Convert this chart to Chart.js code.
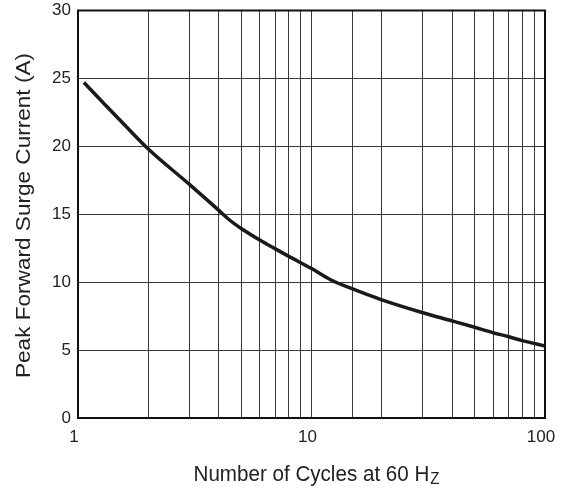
<!DOCTYPE html>
<html>
<head>
<meta charset="utf-8">
<script src="https://cdn.jsdelivr.net/npm/chart.js@4/dist/chart.umd.min.js"></script>
<style>
  html, body { margin: 0; padding: 0; background: #fff; }
  #wrap { width: 562px; height: 491px; }
</style>
</head>
<body>
<div id="wrap"><canvas id="myChart" width="562" height="491"></canvas></div>
<script>
// curve
let cycles = [1.06, 1.3, 1.5, 2, 3, 4, 4.4, 5, 6, 7, 8, 10, 12, 15, 20, 30, 40, 50, 60, 70, 80, 100]
let current = [24.7, 23.1, 22.0, 19.8, 17.2, 15.3, 14.65, 13.95, 13.1, 12.45, 11.9, 11.0, 10.2, 9.5, 8.7, 7.75, 7.15, 6.68, 6.28, 5.98, 5.7, 5.3]
let xLabels = [1, 10, 100]
let yTicks = [0, 5, 10, 15, 20, 25, 30]
let xTitle = 'Number of Cycles at 60 H'
let xTitleSub = 'Z'
let yTitle = 'Peak Forward Surge Current (A)'

const fontFam = "'Liberation Sans', Arial, sans-serif"
const gridColor = '#3a3a3a'

// frame around the plot + both axis titles
const frame = {
    id: 'frame',
    afterDraw(chart) {
        const c = chart.ctx
        const a = chart.chartArea
        c.save()
        c.strokeStyle = '#111'
        c.lineWidth = 2
        c.strokeRect(a.left, a.top, a.right - a.left, a.bottom - a.top)

        c.fillStyle = '#222'
        c.textBaseline = 'alphabetic'

        // x title, Z as subscript
        c.font = '22px ' + fontFam
        const wMain = c.measureText(xTitle).width
        c.font = '16px ' + fontFam
        const wSub = c.measureText(xTitleSub).width
        const sx = 245 / (wMain + wSub)
        c.save()
        c.translate(193.5, 0)
        c.scale(sx, 1)
        c.font = '22px ' + fontFam
        c.fillText(xTitle, 0, 481)
        c.font = '16px ' + fontFam
        c.fillText(xTitleSub, wMain + 1, 484)
        c.restore()

        // y title, rotated
        c.save()
        c.font = '21px ' + fontFam
        const wy = c.measureText(yTitle).width
        c.translate(29.5, 215.5)
        c.rotate(-Math.PI / 2)
        c.scale(325 / wy, 1)
        c.textAlign = 'center'
        c.fillText(yTitle, 0, 0)
        c.restore()

        c.restore()
    }
}

const data = {
    datasets: [{
        label: 'Peak Forward Surge Current',
        data: cycles.map((c, i) => ({ x: c, y: current[i] })),
        borderColor: '#1a1a1a',
        borderWidth: 3.5,
        pointRadius: 0,
        fill: false,
        cubicInterpolationMode: 'monotone'
    }]
}

const config = {
    type: 'line',
    data: data,
    options: {
        responsive: false,
        animation: false,
        layout: { padding: { top: 10.5, right: 17, left: 0, bottom: 0 } },
        plugins: { legend: { display: false }, tooltip: { enabled: false } },
        scales: {
            x: {
                type: 'logarithmic',
                min: 1,
                max: 100,
                afterFit: s => {
                    s.height = 73
                    s.paddingLeft = 0
                    s.paddingRight = 0
                },
                grid: { color: gridColor, lineWidth: 1, drawTicks: false },
                border: { display: false },
                ticks: {
                    color: '#222',
                    font: { family: fontFam, size: 17 },
                    padding: 9,
                    labelOffset: -4,
                    maxRotation: 0,
                    autoSkip: false,
                    callback: v => xLabels.includes(v) ? String(v) : ''
                }
            },
            y: {
                min: 0,
                max: 30,
                afterFit: s => {
                    s.width = 78
                    s.paddingTop = 0
                    s.paddingBottom = 0
                },
                afterBuildTicks: s => { s.ticks = yTicks.map(v => ({ value: v })) },
                grid: { color: gridColor, lineWidth: 1, drawTicks: false },
                border: { display: false },
                ticks: {
                    color: '#222',
                    font: { family: fontFam, size: 17 },
                    padding: 7
                }
            }
        }
    },
    plugins: [frame]
}

myChart = new Chart(document.getElementById('myChart'), config)
</script>
</body>
</html>
